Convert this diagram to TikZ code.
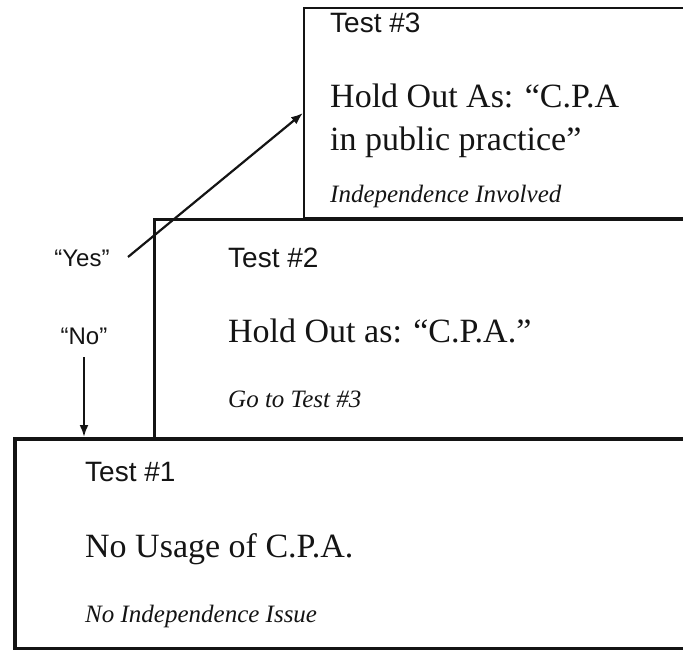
\documentclass[tikz,border=0pt]{standalone}
\usepackage{fontspec}
\setmainfont{Liberation Serif}
\setsansfont{Liberation Sans}
\usetikzlibrary{positioning}
\usetikzlibrary{arrows.meta}
\definecolor{figNegro}{RGB}{20,20,20}
\tikzset{
  caja/.style={
    rectangle, draw=figNegro, anchor=north west, inner sep=0pt,
    minimum width=720pt
  },
  titulo/.style={anchor=base west, inner sep=0pt, text=figNegro,
    font=\sffamily\fontsize{28}{32}\selectfont},
  texto/.style={anchor=base west, inner sep=0pt, text=figNegro,
    font=\rmfamily\fontsize{34}{42}\selectfont},
  nota/.style={anchor=base west, inner sep=0pt, text=figNegro,
    font=\rmfamily\itshape\fontsize{25}{30}\selectfont},
  respuesta/.style={anchor=base, inner sep=0pt, text=figNegro,
    font=\sffamily\fontsize{24}{28}\selectfont},
  flecha/.style={-{Latex[length=12pt,width=9pt]}, line width=2.2pt, draw=figNegro}
}

\begin{document}
\begin{tikzpicture}[x=1pt, y=-1pt]
  \clip (0,0) rectangle (683,650);

  % las tres pruebas, de arriba abajo
  \node[caja, line width=2pt, minimum height=210pt] (t3box) at (303,7) {};
  \node[caja, line width=3pt, minimum height=219pt] (t2box) at (153,218) {};
  \node[caja, line width=4pt, minimum height=210pt] (t1box) at (13,437) {};

  \node[titulo] (t3) at (330,33) {Test \#3};
  \node[texto] (t3a) at (330,108) {Hold Out As: “C.P.A};
  \node[texto] (t3b) at (330,150) {in public practice”};
  \node[nota] (t3c) at (330,202) {Independence Involved};

  \node[titulo] (t2) at (228,267) {Test \#2};
  \node[texto] (t2a) at (228,342) {Hold Out as: “C.P.A.”};
  \node[nota] (t2b) at (228,407) {Go to Test \#3};

  \node[titulo] (t1) at (85,481) {Test \#1};
  \node[texto] (t1a) at (85,557) {No Usage of C.P.A.};
  \node[nota] (t1b) at (85,622) {No Independence Issue};

  \node[respuesta] (si) at (82,266) {“Yes”};
  \node[respuesta] (no) at (84,344) {“No”};
  \coordinate (sipunto) at (128,257);

  \draw[flecha] (sipunto) -- (t3box.west);
  \draw[flecha] ([yshift=-13pt]no.base) -- (no.base |- t1box.north);
\end{tikzpicture}
\end{document}
